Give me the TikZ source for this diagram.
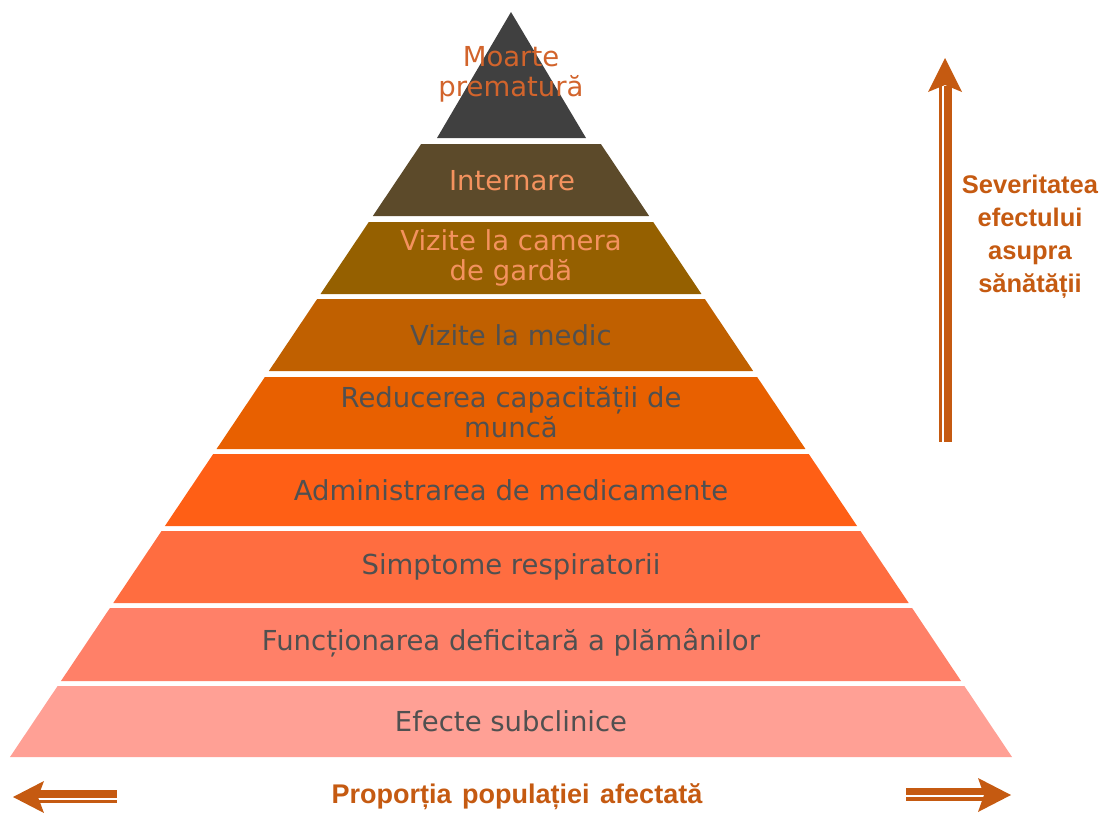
\documentclass[tikz,border=0pt]{standalone}
\usepackage{fontspec}
\usetikzlibrary{calc}
\setmainfont{DejaVu Sans}
\newfontfamily\boldfont{Liberation Sans}[BoldFont={Liberation Sans Bold}]
\definecolor{cA}{HTML}{404040}
\definecolor{cB}{HTML}{5C4A2A}
\definecolor{cC}{HTML}{956000}
\definecolor{cD}{HTML}{C06000}
\definecolor{cE}{HTML}{E86000}
\definecolor{cF}{HTML}{FF5F15}
\definecolor{cG}{HTML}{FF6D40}
\definecolor{cH}{HTML}{FF8068}
\definecolor{cI}{HTML}{FFA095}
\definecolor{txtgray}{HTML}{505050}
\definecolor{txtlight}{HTML}{F4925E}
\definecolor{txttop}{HTML}{D2642C}
\definecolor{arrowc}{HTML}{C55A11}
\newcommand\pyrlayer[3]{%
  \pgfmathsetmacro\xLt{511-0.6707*(#1-10)}%
  \pgfmathsetmacro\xRt{511+0.6707*(#1-10)}%
  \pgfmathsetmacro\xLb{511-0.6707*(#2-10)}%
  \pgfmathsetmacro\xRb{511+0.6707*(#2-10)}%
  \fill[#3] (\xLt,#1) -- (\xRt,#1) -- (\xRb,#2) -- (\xLb,#2) -- cycle;}
\tikzset{
  lbl/.style={font=\fontsize{27.5}{30}\selectfont, align=center, inner sep=0pt},
  sev/.style={font=\boldfont\bfseries\fontsize{25.5}{33}\selectfont, text=arrowc, align=center, inner sep=0pt},
}
\begin{document}
\begin{tikzpicture}[x=1pt,y=-1pt]
\useasboundingbox (0,0) rectangle (1114,812);
% pyramid
\fill[cA] (511,12) -- (586,138) -- (437,138) -- cycle;
\pyrlayer{144}{216}{cB}
\pyrlayer{222}{294}{cC}
\pyrlayer{299}{371}{cD}
\pyrlayer{377}{449}{cE}
\pyrlayer{454}{526}{cF}
\pyrlayer{531}{603}{cG}
\pyrlayer{608}{681}{cH}
\pyrlayer{686}{757}{cI}
% labels
\node[lbl, text=txttop] (l1) at (511,74) {Moarte\\prematură};
\node[lbl, text=txtlight] (l2) at (512,181) {Internare};
\node[lbl, text=txtlight] (l3) at (511,258) {Vizite la camera\\de gardă};
\node[lbl, text=txtgray] (l4) at (511,335) {Vizite la medic};
\node[lbl, text=txtgray] (l5) at (511,412) {Reducerea capacității de\\muncă};
\node[lbl, text=txtgray] (l6) at (511,490) {Administrarea de medicamente};
\node[lbl, text=txtgray] (l7) at (511,567) {Simptome respiratorii};
\node[lbl, text=txtgray] (l8) at (511,643) {Funcționarea deficitară a plămânilor};
\node[lbl, text=txtgray] (l9) at (511,721) {Efecte subclinice};
% vertical arrow
\coordinate (vtop) at (945,86);
\coordinate (vbot) at (945,442);
\fill[arrowc] ($(vbot)+(-1,0)$) rectangle ($(vtop)+(7,0)$);
\fill[arrowc] ($(vbot)+(-6,0)$) rectangle ($(vtop)+(-3,0)$);
\fill[arrowc] (945,58) -- (962,92) -- (945,85) -- (928,92) -- cycle;
\node[sev] (sev) at (1030,237) {Severitatea\\efectului\\asupra\\sănătății};
% bottom arrows
\fill[arrowc] (117,790) rectangle (38,797.5);
\fill[arrowc] (117,799.5) rectangle (38,803);
\fill[arrowc] (13,797) -- (44,781) -- (38,797) -- (44,813) -- cycle;
\fill[arrowc] (906,788) rectangle (984,795);
\fill[arrowc] (906,797) rectangle (984,801);
\fill[arrowc] (1011,795) -- (978,778) -- (984,795) -- (978,812) -- cycle;
\node[font=\boldfont\bfseries\fontsize{27}{30}\selectfont, text=arrowc, inner sep=0pt] (prop) at (517,797) {Proporția\hspace{3pt} populației\hspace{3pt} afectată};
\end{tikzpicture}
\end{document}
